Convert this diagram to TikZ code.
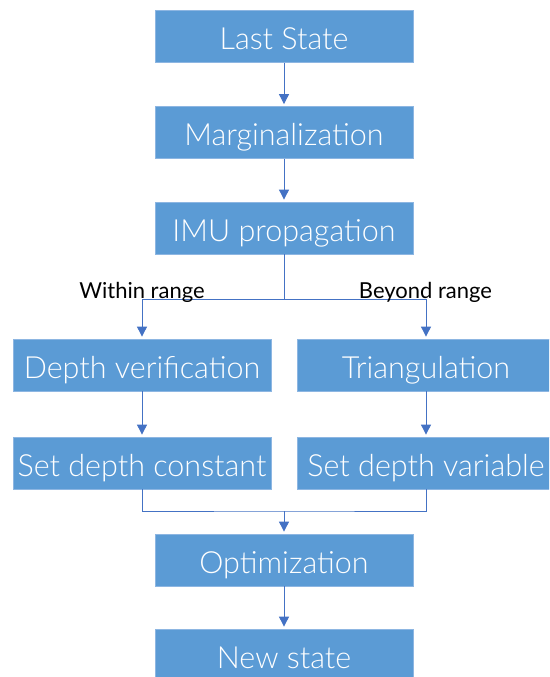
\documentclass[tikz,border=0pt]{standalone}
\usepackage{fontspec}
\setmainfont{Lato}
\newfontfamily\boxfont{Lato Light}
\usetikzlibrary{arrows.meta}
\definecolor{boxfill}{HTML}{5B9BD5}
\definecolor{boxline}{HTML}{8DB6E2}
\definecolor{linkc}{HTML}{4472C4}
\tikzset{
  flowbox/.style={rectangle, fill=boxfill, draw=boxline, line width=0.8pt,
    minimum width=258pt, minimum height=52pt, inner sep=0pt,
    text=white, font=\boxfont\fontsize{30.5}{36}\selectfont, text height=26pt, text depth=0pt},
  link/.style={draw=linkc, line width=0.9pt},
  arr/.style={link, -{Triangle[length=10pt,width=10pt]}, shorten >=2pt},
  lbl/.style={anchor=base, inner sep=0pt, font=\fontsize{22}{27}\selectfont, text=black}
}
\begin{document}
\begin{tikzpicture}[x=1pt,y=-1pt]
\useasboundingbox (0,0) rectangle (549,677);
\fill[white] (0,0) rectangle (549,677);
\clip (0,0) rectangle (549,677);
\node[flowbox] (last) at (284,36.5) {Last State};
\node[flowbox] (marg) at (284,132.5) {Marginalization};
\node[flowbox] (imu) at (284,228) {IMU propagation};
\node[flowbox] (dv) at (142,365) {Depth verification};
\node[flowbox] (tri) at (426,365) {Triangulation};
\node[flowbox] (sdc) at (142,463) {Set depth constant};
\node[flowbox] (sdv) at (426,463) {Set depth variable};
\node[flowbox] (opt) at (284,560) {Optimization};
\node[flowbox] (new) at (284,655) {New state};
\coordinate (split) at (284,299.5);
\coordinate (join) at (284,511);
\draw[arr] (last) -- (marg);
\draw[arr] (marg) -- (imu);
\draw[link] (imu.south) -- (split);
\draw[arr] (split) -| (dv.north);
\draw[arr] (split) -| (tri.north);
\node[lbl] (within) at (142,298) {Within range};
\node[lbl] (beyond) at (425.5,298) {Beyond range};
\draw[arr] (dv) -- (sdc);
\draw[arr] (tri) -- (sdv);
\draw[link] (sdc.south) |- (join) -| (sdv.south);
\draw[arr] (join) -- (opt.north);
\draw[arr] (opt) -- (new);
\end{tikzpicture}
\end{document}
